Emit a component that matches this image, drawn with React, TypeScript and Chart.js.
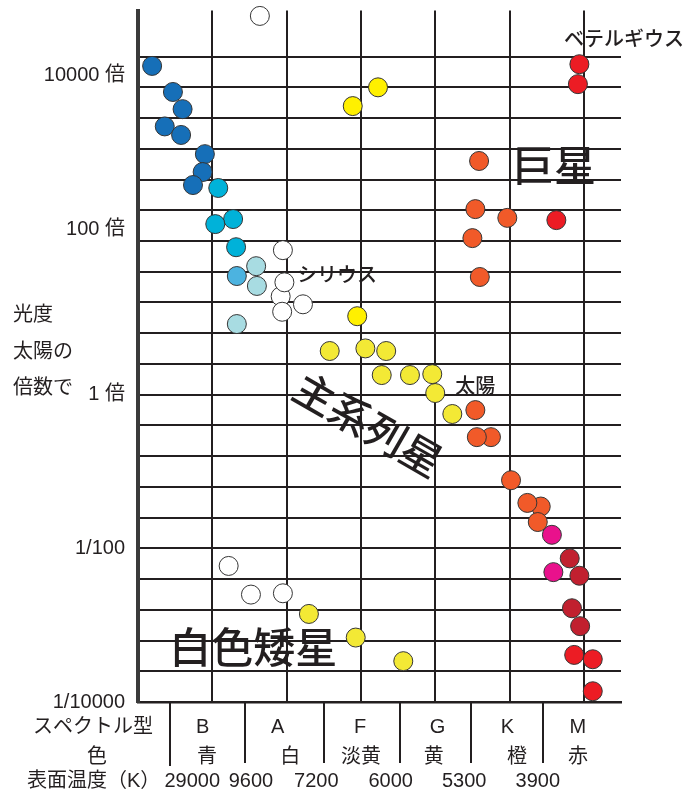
import { useEffect, useRef } from 'react';
import { Chart, registerables } from 'chart.js';

Chart.register(...registerables);

const FONT = '"Liberation Sans", "Noto Sans CJK JP", sans-serif';
const CJK = '"Noto Sans CJK JP", sans-serif';
const INK = '#231f20';

// ---- data: x = spectral position (0..6.5), L = luminosity (Sun = 1) ----
const blueX = [0.19, 0.47, 0.6, 0.36, 0.58, 0.9, 0.87, 0.74];
const blueL = [19000, 8700, 5200, 3100, 2400, 1350, 790, 535];
const cyanX = [1.08, 1.28, 1.04, 1.32];
const cyanL = [490, 193, 166, 83];
const midBlueX = [1.33];
const midBlueL = [35];
const lightBlueX = [1.59, 1.6, 1.33];
const lightBlueL = [47, 26, 8.3];
const whiteX = [1.64, 1.95, 1.92, 1.97, 2.22, 1.94, 1.22, 1.52, 1.95];
const whiteL = [85000, 76, 19, 29, 15, 12, 0.0059, 0.0025, 0.0026];
const brightYellowX = [3.23, 2.89, 2.95];
const brightYellowL = [10000, 5700, 10.5];
const yellowX = [2.58, 3.06, 3.34, 3.28, 3.66, 3.96, 4.0, 4.23, 2.3, 2.93, 3.57];
const yellowL = [3.7, 4.0, 3.7, 1.8, 1.8, 1.85, 1.05, 0.56, 0.0014, 0.00069, 0.00034];
const orangeX = [4.59, 4.54, 4.97, 4.5, 4.6, 4.54, 4.75, 4.56, 5.02, 5.42, 5.24, 5.38];
const orangeL = [1100, 260, 200, 109, 34, 0.63, 0.28, 0.28, 0.077, 0.035, 0.039, 0.022];
const redX = [5.94, 5.92, 5.63, 5.87, 6.12, 6.12];
const redL = [20000, 11000, 187, 0.00041, 0.00036, 0.000138];
const magentaX = [5.57, 5.59];
const magentaL = [0.015, 0.0049];
const darkRedX = [5.81, 5.94, 5.84, 5.95];
const darkRedL = [0.0074, 0.0044, 0.00166, 0.00097];

// ---- axis labels ----
const yGridExponents = Array.from({ length: 22 }, (_, i) => Math.round((-4 + 0.4 * i) * 10) / 10);
const yLabelExponents = [-4, -2, 0, 2, 4];
const yLabelTexts = ['1/10000', '1/100', '1 倍', '100 倍', '10000 倍'];
const xGridValues = [0, 1, 2, 3, 4, 5, 6];

const spectralTypes = ['B', 'A', 'F', 'G', 'K', 'M'];
const spectralTypeX = [0.87, 1.88, 2.99, 4.03, 4.97, 5.92];
const colorNames = ['青', '白', '淡黄', '黄', '橙', '赤'];
const colorNameX = [0.93, 2.05, 3.0, 3.98, 5.1, 5.92];
const temperatures = ['29000', '9600', '7200', '6000', '5300', '3900'];
const temperatureX = [0.73, 1.52, 2.4, 3.4, 4.39, 5.38];
const spectralBounds = [0.43, 1.44, 2.5, 3.53, 4.48, 5.45];

const annotations = [
  { text: 'ベテルギウス', x: 6.54, y: 41000, size: 20, font: FONT, align: 'center', rotate: 0 },
  { text: '巨星', x: 5.6, y: 970, size: 42, font: CJK, align: 'center', rotate: 0 },
  { text: 'シリウス', x: 2.14, y: 35, size: 20, font: FONT, align: 'left', rotate: 0 },
  { text: '太陽', x: 4.27, y: 1.25, size: 20, font: FONT, align: 'left', rotate: 0 },
  { text: '主系列星', x: 3.1, y: 0.41, size: 41, font: CJK, align: 'center', rotate: 30 },
  { text: '白色矮星', x: 1.55, y: 0.000515, size: 42, font: CJK, align: 'center', rotate: 0 },
];

const series = [
  { x: magentaX, l: magentaL, color: '#e9118c' },
  { x: darkRedX, l: darkRedL, color: '#c1202f' },
  { x: redX, l: redL, color: '#ec1c24' },
  { x: orangeX, l: orangeL, color: '#f15a29' },
  { x: brightYellowX, l: brightYellowL, color: '#fff000' },
  { x: yellowX, l: yellowL, color: '#f3e935' },
  { x: whiteX, l: whiteL, color: '#ffffff' },
  { x: lightBlueX, l: lightBlueL, color: '#a8dce2' },
  { x: midBlueX, l: midBlueL, color: '#4cb3e0' },
  { x: cyanX, l: cyanL, color: '#00b2d9' },
  { x: blueX, l: blueL, color: '#166fb8' },
];

const textPlugin = {
  id: 'hrText',
  afterDraw(chart: any) {
    const { ctx, chartArea } = chart;
    const xs = chart.scales.x;
    const ys = chart.scales.y;
    ctx.save();
    ctx.fillStyle = INK;
    ctx.textBaseline = 'middle';
    for (const a of annotations) {
      ctx.save();
      ctx.translate(xs.getPixelForValue(a.x), ys.getPixelForValue(a.y));
      if (a.rotate) ctx.rotate((a.rotate * Math.PI) / 180);
      ctx.font = `500 ${a.size}px ${a.font}`;
      ctx.textAlign = a.align;
      ctx.fillText(a.text, 0, 0);
      ctx.restore();
    }
    // y axis title
    ctx.font = `20px ${FONT}`;
    ctx.textAlign = 'left';
    ctx.fillText('光度', 13, 315);
    ctx.fillText('太陽の', 13, 352);
    ctx.fillText('倍数で', 13, 388);

    // bottom rows
    const b = chartArea.bottom;
    ctx.strokeStyle = INK;
    ctx.lineWidth = 2;
    spectralBounds.forEach((v, i) => {
      const px = Math.round(xs.getPixelForValue(v));
      ctx.beginPath();
      ctx.moveTo(px, b);
      ctx.lineTo(px, b + (i === 0 ? 64 : 61));
      ctx.stroke();
    });
    ctx.textAlign = 'right';
    ctx.fillText('スペクトル型', 153, b + 25);
    ctx.textAlign = 'center';
    ctx.fillText('色', 97, b + 55);
    ctx.textAlign = 'left';
    ctx.fillText('表面温度（K）', 27, b + 79);
    ctx.textAlign = 'center';
    spectralTypes.forEach((t, i) => ctx.fillText(t, xs.getPixelForValue(spectralTypeX[i]), b + 25));
    colorNames.forEach((t, i) => ctx.fillText(t, xs.getPixelForValue(colorNameX[i]), b + 55));
    temperatures.forEach((t, i) => ctx.fillText(t, xs.getPixelForValue(temperatureX[i]), b + 79));
    ctx.restore();
  },
};

export default function App() {
  const ref = useRef<HTMLCanvasElement | null>(null);
  useEffect(() => {
    document.body.style.margin = '0';
    const canvas = ref.current;
    if (!canvas) return;
    const chart = new Chart(canvas, {
      type: 'scatter',
      data: {
        datasets: series.map((s) => ({
          data: s.x.map((x, i) => ({ x, y: s.l[i] })),
          backgroundColor: s.color,
          borderColor: '#353535',
          borderWidth: 1,
          pointRadius: 9.5,
          pointHoverRadius: 9.5,
          clip: false,
        })),
      },
      options: {
        animation: false,
        responsive: false,
        events: [],
        layout: { padding: { top: 10, right: 69, left: 0, bottom: 0 } },
        plugins: { legend: { display: false }, tooltip: { enabled: false } },
        scales: {
          x: {
            type: 'linear',
            min: 0,
            max: 6.5,
            afterBuildTicks: (s: any) => {
              s.ticks = xGridValues.map((v) => ({ value: v }));
            },
            afterFit: (s: any) => {
              s.height = 92;
              s.paddingLeft = 0;
              s.paddingRight = 0;
            },
            ticks: { display: false },
            grid: { color: INK, lineWidth: 2, drawTicks: false },
            border: { display: true, color: INK, width: 2.5 },
          },
          y: {
            type: 'logarithmic',
            min: 1e-4,
            max: 1e5,
            afterBuildTicks: (s: any) => {
              s.ticks = yGridExponents.map((e) => ({ value: Math.pow(10, e) }));
            },
            afterFit: (s: any) => {
              s.width = 138;
              s.paddingTop = 0;
              s.paddingBottom = 0;
            },
            ticks: {
              autoSkip: false,
              padding: 13,
              color: INK,
              font: { family: FONT, size: 20 },
              callback: (value: any) => {
                const e = Math.round(Math.log10(Number(value)) * 10) / 10;
                const idx = yLabelExponents.indexOf(e);
                if (idx < 0) return '';
                // upper labels sit above their grid line
                return e >= 2 ? [yLabelTexts[idx], ''] : yLabelTexts[idx];
              },
            },
            grid: { color: INK, lineWidth: 2, drawTicks: false },
            border: { display: true, color: '#3a3a3a', width: 4 },
          },
        },
      },
      plugins: [textPlugin],
    } as any);
    return () => chart.destroy();
  }, []);
  return (
    <div style={{ width: 690, height: 794 }}>
      <canvas ref={ref} width={690} height={794} style={{ display: 'block' }} />
    </div>
  );
}
